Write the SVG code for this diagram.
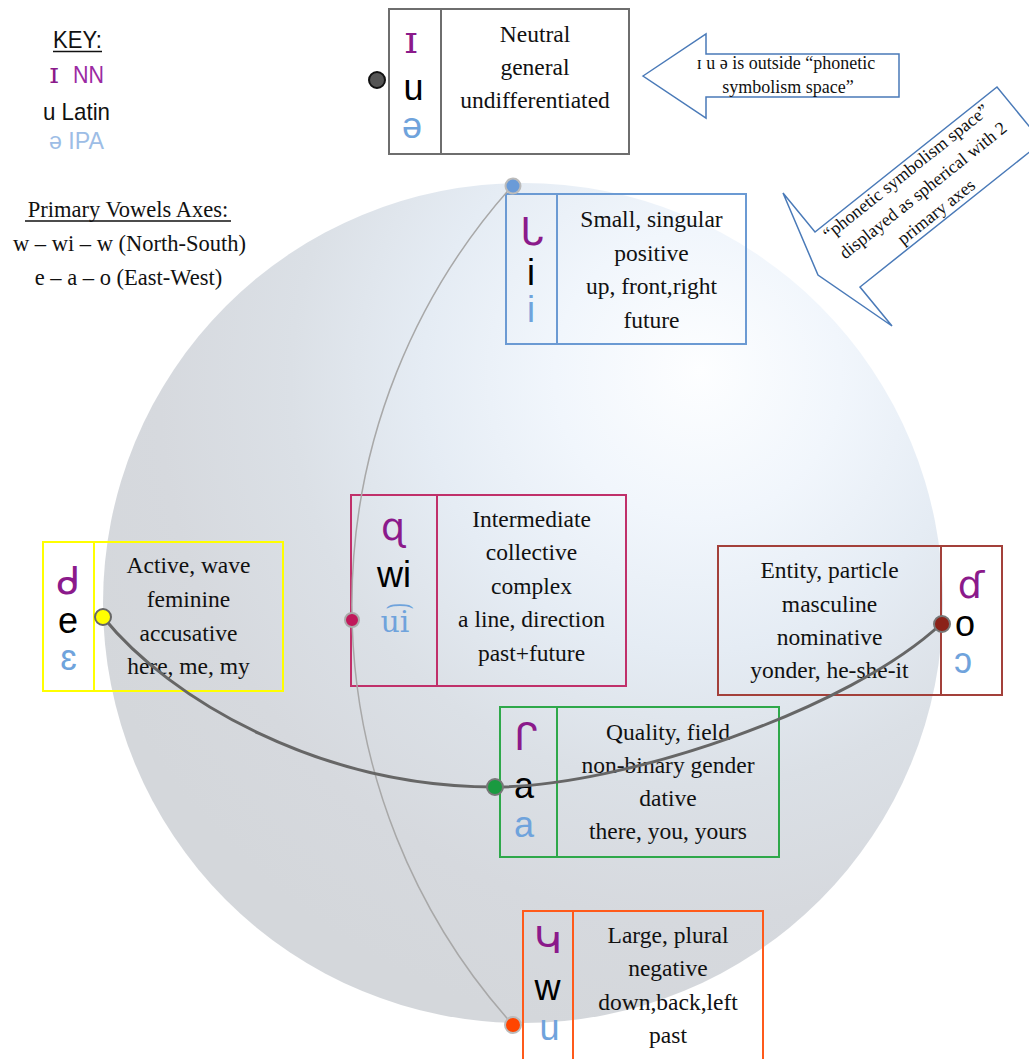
<svg xmlns="http://www.w3.org/2000/svg" width="1029" height="1059" viewBox="0 0 1029 1059">
<style>
.box{fill:none;stroke-width:2}
.t{font-family:"Liberation Serif","DejaVu Serif",serif;font-size:23.5px;fill:#111;text-anchor:middle}
.lat{font-family:"Liberation Sans",Arial,sans-serif;font-size:36px;fill:#000;text-anchor:middle}
.ipa{font-family:"Liberation Sans","DejaVu Sans",sans-serif;font-size:36px;fill:#6fa3dc;text-anchor:middle}
.nn{font-family:"DejaVu Sans",sans-serif;font-size:38px;fill:#8b1a8b;text-anchor:middle}
.key{font-family:"Liberation Sans",Arial,sans-serif;font-size:24px;text-anchor:middle}
.ks{font-family:"Liberation Serif",serif;font-size:22.5px;fill:#111;text-anchor:middle}
.call{fill:#fff;stroke:#4a7ab8;stroke-width:1.5}
.ct{font-family:"Liberation Serif","DejaVu Serif",serif;font-size:18px;fill:#111;text-anchor:middle}
.dot{stroke-width:2}
</style>
<defs>
<radialGradient id="sph" gradientUnits="userSpaceOnUse" cx="690" cy="390" r="650" fx="700" fy="370">
<stop offset="0" stop-color="#fdfeff"/>
<stop offset="0.22" stop-color="#f1f6fc"/>
<stop offset="0.42" stop-color="#e5ecf4"/>
<stop offset="0.62" stop-color="#dbe0e6"/>
<stop offset="0.82" stop-color="#d6d9de"/>
<stop offset="1" stop-color="#d4d7db"/>
</radialGradient>
</defs>
<rect width="1029" height="1059" fill="#fff"/>
<circle id="sphere" cx="523" cy="603" r="420" fill="url(#sph)"/>

<g id="key">
<text class="key" x="77.5" y="48" fill="#111" textLength="49" lengthAdjust="spacingAndGlyphs">KEY:</text>
<line x1="53" y1="51.5" x2="102" y2="51.5" stroke="#111" stroke-width="1.5"/>
<text x="54" y="83" font-family="'DejaVu Serif',serif" font-size="28" fill="#8b1a8b" text-anchor="middle">ɪ</text>
<text class="key" x="88.5" y="83" fill="#9b2aa3" textLength="31" lengthAdjust="spacingAndGlyphs">NN</text>
<text class="key" x="76.5" y="120" fill="#111" textLength="67" lengthAdjust="spacingAndGlyphs">u Latin</text>
<text class="key" x="76.5" y="149" fill="#9dbde6" textLength="55" lengthAdjust="spacingAndGlyphs">ə IPA</text>
<text class="ks" x="128" y="217">Primary Vowels Axes:</text>
<line x1="25" y1="221" x2="231" y2="221" stroke="#111" stroke-width="1.5"/>
<text class="ks" x="129.5" y="251">w – wi – w (North-South)</text>
<text class="ks" x="128.5" y="285">e – a – o (East-West)</text>
</g>

<g id="callout-outside">
<polygon class="call" points="643,76 706,34 706,54 899,54 899,97 706,97 706,118"/>
<text class="ct" x="786" y="69">ɪ u ə is outside “phonetic</text>
<text class="ct" x="788" y="93">symbolism space”</text>
</g>
<g id="callout-sphere">
<polygon class="call" points="783,193 815,232 997,87 1042,142 860,287 892,326 818,275"/>
<g transform="translate(837.5,259.5) rotate(-38.5)">
<text class="ct" x="108" y="-20">“phonetic symbolism space”</text>
<text class="ct" x="110" y="5">displayed as spherical with 2</text>
<text class="ct" x="107" y="30">primary axes</text>
</g>
</g>

<g id="node-neutral">
<rect class="box" x="389" y="9" width="240" height="145" stroke="#6e6e6e"/>
<line x1="441" y1="9" x2="441" y2="154" stroke="#6e6e6e" stroke-width="2"/>
<text x="411" y="53" font-family="'DejaVu Serif',serif" font-size="40" fill="#8b1a8b" text-anchor="middle">ɪ</text>
<text class="lat" x="413.5" y="100">u</text>
<text class="ipa" x="412" y="138">ə</text>
<text class="t" x="535" y="42">Neutral</text>
<text class="t" x="535" y="75">general</text>
<text class="t" x="535" y="108">undifferentiated</text>
</g>

<g id="node-i">
<rect class="box" x="506" y="194" width="240" height="150" stroke="#6b9ad3"/>
<line x1="557" y1="194" x2="557" y2="344" stroke="#6b9ad3" stroke-width="2"/>
<text class="nn" x="532" y="245" font-size="36">ᒐ</text>
<text class="lat" x="531" y="285">i</text>
<text class="ipa" x="531" y="322">i</text>
<text class="t" x="651.5" y="227">Small, singular</text>
<text class="t" x="651.5" y="261">positive</text>
<text class="t" x="651.5" y="294">up, front,right</text>
<text class="t" x="651.5" y="328">future</text>
</g>

<g id="node-wi">
<rect class="box" x="351" y="495" width="275" height="191" stroke="#c0306a"/>
<line x1="437" y1="495" x2="437" y2="686" stroke="#c0306a" stroke-width="2"/>
<text class="nn" x="393" y="540">ɋ</text>
<text class="lat" x="394" y="587">wi</text>
<text x="395" y="632" font-family="'DejaVu Serif',serif" font-size="30" fill="#6fa3dc" text-anchor="middle">u͡i</text>
<text class="t" x="531.5" y="527">Intermediate</text>
<text class="t" x="531.5" y="560">collective</text>
<text class="t" x="531.5" y="594">complex</text>
<text class="t" x="531.5" y="627">a line, direction</text>
<text class="t" x="531.5" y="661">past+future</text>
</g>

<g id="node-e">
<rect class="box" x="43" y="542" width="240" height="149" stroke="#ffff00"/>
<line x1="94" y1="542" x2="94" y2="691" stroke="#ffff00" stroke-width="2"/>
<text class="nn" x="68.5" y="594">ᑯ</text>
<text class="lat" x="68" y="633">e</text>
<text class="ipa" x="68.5" y="670">ɛ</text>
<text class="t" x="188.5" y="573">Active, wave</text>
<text class="t" x="188.5" y="607">feminine</text>
<text class="t" x="188.5" y="641">accusative</text>
<text class="t" x="188.5" y="674">here, me, my</text>
</g>

<g id="node-o">
<rect class="box" x="718" y="546" width="284" height="149" stroke="#a3403a"/>
<line x1="941" y1="546" x2="941" y2="695" stroke="#a3403a" stroke-width="2"/>
<text class="nn" x="971" y="598">ɗ</text>
<text class="lat" x="965" y="636">o</text>
<text class="ipa" x="963" y="673">ɔ</text>
<text class="t" x="829.5" y="578">Entity, particle</text>
<text class="t" x="829.5" y="612">masculine</text>
<text class="t" x="829.5" y="645">nominative</text>
<text class="t" x="829.5" y="678">yonder, he-she-it</text>
</g>

<g id="node-a">
<rect class="box" x="500" y="707" width="279" height="150" stroke="#2ea84a"/>
<line x1="557" y1="707" x2="557" y2="857" stroke="#2ea84a" stroke-width="2"/>
<text class="nn" x="526" y="750" font-size="32">ᒋ</text>
<text class="lat" x="524" y="798">a</text>
<text class="ipa" x="524" y="837">a</text>
<text class="t" x="668" y="740">Quality, field</text>
<text class="t" x="668" y="773">non-binary gender</text>
<text class="t" x="668" y="806">dative</text>
<text class="t" x="668" y="839">there, you, yours</text>
</g>

<g id="node-w">
<rect class="box" x="523" y="911" width="240" height="160" stroke="#ff5a1a"/>
<line x1="573" y1="911" x2="573" y2="1071" stroke="#ff5a1a" stroke-width="2"/>
<text class="nn" x="548" y="953" font-size="28">Կ</text>
<text class="lat" x="547.5" y="1000">w</text>
<text class="ipa" x="549.5" y="1040">u</text>
<text class="t" x="668" y="943">Large, plural</text>
<text class="t" x="668" y="976">negative</text>
<text class="t" x="668" y="1010">down,back,left</text>
<text class="t" x="668" y="1043">past</text>
</g>

<g id="connectors" fill="none">
<path d="M513,185 A628,628 0 0 0 513,1025" stroke="#a8a8a8" stroke-width="1.5"/>
<path d="M103,617 C170,700 320,787 495,787 C620,787 850,710 942,623" stroke="#666" stroke-width="3"/>
</g>

<g id="dots">
<circle class="dot" cx="377" cy="80" r="8" fill="#555" stroke="#111" stroke-width="2.5"/>
<circle class="dot" cx="513" cy="186" r="7.5" fill="#6a9bd8" stroke="#bbb"/>
<circle class="dot" cx="352" cy="620" r="7" fill="#c0185a" stroke="#aaa"/>
<circle class="dot" cx="103" cy="617" r="8" fill="#ffff00" stroke="#666"/>
<circle class="dot" cx="942" cy="624" r="8" fill="#8b2218" stroke="#777"/>
<circle class="dot" cx="495" cy="787" r="8" fill="#1a9a40" stroke="#777"/>
<circle class="dot" cx="513" cy="1025" r="8" fill="#ff4500" stroke="#bbb"/>
</g>
</svg>
